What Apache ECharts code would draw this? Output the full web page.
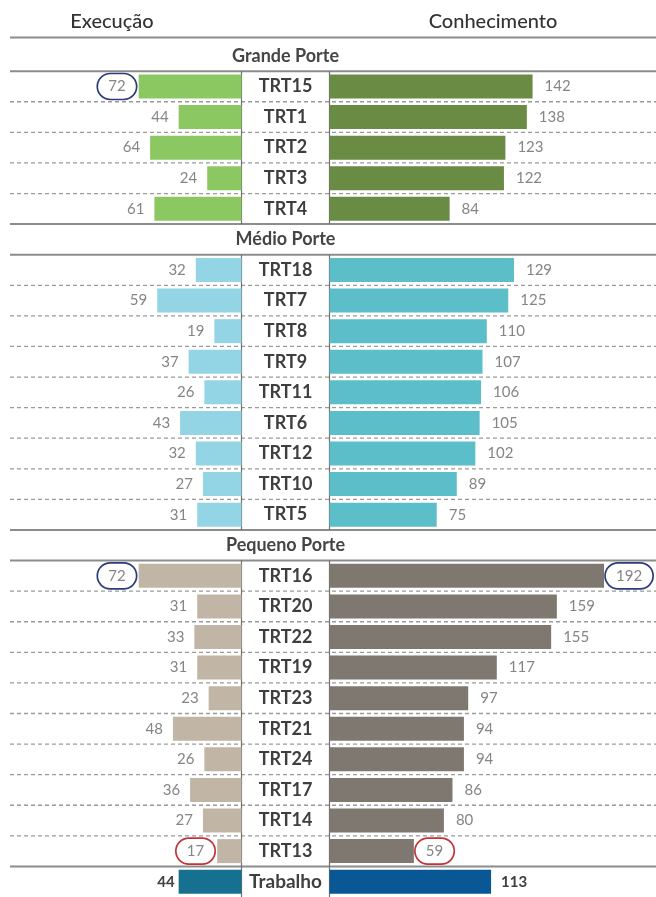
<!DOCTYPE html>
<html>
<head>
<meta charset="utf-8">
<script src="https://cdn.jsdelivr.net/npm/echarts@6/dist/echarts.min.js"></script>
<style>html,body{margin:0;padding:0;background:#fff}#c{width:656px;height:897px}</style>
</head>
<body>
<div id="c"></div>
<script>
// ---- data ----
const leftTitle = 'Execução';
const rightTitle = 'Conhecimento';
const groupHeaders = ['Grande Porte', 'Médio Porte', 'Pequeno Porte'];
const grandeNames = ['TRT15', 'TRT1', 'TRT2', 'TRT3', 'TRT4'];
const grandeExec = [72, 44, 64, 24, 61];
const grandeConh = [142, 138, 123, 122, 84];
const medioNames = ['TRT18', 'TRT7', 'TRT8', 'TRT9', 'TRT11', 'TRT6', 'TRT12', 'TRT10', 'TRT5'];
const medioExec = [32, 59, 19, 37, 26, 43, 32, 27, 31];
const medioConh = [129, 125, 110, 107, 106, 105, 102, 89, 75];
const pequenoNames = ['TRT16', 'TRT20', 'TRT22', 'TRT19', 'TRT23', 'TRT21', 'TRT24', 'TRT17', 'TRT14', 'TRT13'];
const pequenoExec = [72, 31, 33, 31, 23, 48, 26, 36, 27, 17];
const pequenoConh = [192, 159, 155, 117, 97, 94, 94, 86, 80, 59];
const totalName = 'Trabalho';
const totalExec = [44];
const totalConh = [113];
// circled values: [category, colour]
const circledExec = [['TRT15', 'blue'], ['TRT16', 'blue'], ['TRT13', 'red']];
const circledConh = [['TRT16', 'blue'], ['TRT13', 'red']];

// ---- styling ----
const FONT = 'Lato, "Open Sans", sans-serif';
const colors = {
  grande: ['#8cc862', '#6a8b44'],
  medio: ['#93d4e5', '#5bbec8'],
  pequeno: ['#c1b5a5', '#7f7871'],
  total: ['#16708f', '#0a5796']
};
const ringColors = { blue: '#2c3c7c', red: '#c0353a' };

const groups = [
  { key: 'grande', header: groupHeaders[0], names: grandeNames, exec: grandeExec, conh: grandeConh },
  { key: 'medio', header: groupHeaders[1], names: medioNames, exec: medioExec, conh: medioConh },
  { key: 'pequeno', header: groupHeaders[2], names: pequenoNames, exec: pequenoExec, conh: pequenoConh }
];

const categories = [];
const leftData = [];
const rightData = [];

function ring(list, name) {
  const f = list.find(r => r[0] === name);
  return f ? ringColors[f[1]] : null;
}
function makeItem(v, color, ringColor, side, bold) {
  const item = { value: v, itemStyle: { color: color } };
  if (ringColor) {
    item.label = {
      borderColor: ringColor, borderWidth: 1.7, borderRadius: 14,
      padding: [6, 11, 5, 11], distance: side === 'left' ? 2 : 1
    };
  }
  if (bold) {
    item.label = { fontWeight: 'bold', color: '#404040', fontSize: 15, distance: side === 'left' ? 4 : 10 };
  }
  return item;
}

groups.forEach(g => {
  categories.push(g.header);
  leftData.push('-');
  rightData.push('-');
  g.names.forEach((n, i) => {
    categories.push(n);
    leftData.push(makeItem(g.exec[i], colors[g.key][0], ring(circledExec, n), 'left'));
    rightData.push(makeItem(g.conh[i], colors[g.key][1], ring(circledConh, n), 'right'));
  });
});
categories.push(totalName);
leftData.push(makeItem(totalExec[0], colors.total[0], null, 'left', true));
rightData.push(makeItem(totalConh[0], colors.total[1], null, 'right', true));

const chart = echarts.init(document.getElementById('c'), null, { renderer: 'canvas' });

const gridTop = 40.6, gridHeight = 860.7;
const option = {
  animation: false,
  backgroundColor: '#fff',
  textStyle: { fontFamily: FONT },
  title: [
    { text: leftTitle, left: 107, top: 7, textAlign: 'center',
      textStyle: { fontFamily: FONT, fontSize: 20, fontWeight: 500, color: '#333333' } },
    { text: rightTitle, left: 488, top: 7, textAlign: 'center',
      textStyle: { fontFamily: FONT, fontSize: 20, fontWeight: 500, color: '#333333' } }
  ],
  grid: [
    { left: 13, width: 228.5, top: gridTop, height: gridHeight, containLabel: false },
    { left: 329.5, width: 286, top: gridTop, height: gridHeight, containLabel: false }
  ],
  xAxis: [
    { gridIndex: 0, type: 'value', min: 0, max: 160, inverse: true, show: false },
    { gridIndex: 1, type: 'value', min: 0, max: 200, show: false }
  ],
  yAxis: [
    {
      gridIndex: 0, type: 'category', data: categories, inverse: true, position: 'right',
      axisLine: { show: false }, axisTick: { show: false }, splitLine: { show: false },
      axisLabel: {
        margin: 44, align: 'center', interval: 0,
        formatter: function (v) {
          if (groupHeaders.indexOf(v) >= 0) return '{h|' + v + '}';
          if (v === totalName) return '{t|' + v + '}';
          return '{n|' + v + '}';
        },
        rich: {
          h: { fontFamily: FONT, fontSize: 18, fontWeight: 'bold', color: '#454545' },
          t: { fontFamily: FONT, fontSize: 19, fontWeight: 'bold', color: '#404040' },
          n: { fontFamily: FONT, fontSize: 18, fontWeight: 'bold', color: '#3e3e3e' }
        }
      }
    },
    {
      gridIndex: 1, type: 'category', data: categories, inverse: true, show: false
    }
  ],
  series: [
    {
      name: leftTitle, type: 'bar', xAxisIndex: 0, yAxisIndex: 0, data: leftData,
      barWidth: 24, z: 3,
      label: { show: true, position: 'left', distance: 10, fontFamily: FONT,
        fontSize: 15, color: '#858585' }
    },
    {
      name: rightTitle, type: 'bar', xAxisIndex: 1, yAxisIndex: 1, data: rightData,
      barWidth: 24, z: 3,
      label: { show: true, position: 'right', distance: 12, fontFamily: FONT,
        fontSize: 15, color: '#858585' }
    }
  ]
};
chart.setOption(option);

// ---- rule lines derived from the axes ----
function yc(i) { return chart.convertToPixel({ yAxisIndex: 0 }, i); }
const band = yc(1) - yc(0);
function boundary(i) { return yc(i) - band / 2; }
const xL = chart.convertToPixel({ xAxisIndex: 0 }, 0);
const xR = chart.convertToPixel({ xAxisIndex: 1 }, 0);

const elems = [];
function hline(y, solid) {
  elems.push({
    type: 'line', z: 0, silent: true,
    shape: { x1: 10, y1: y, x2: 656, y2: y },
    style: solid ? { stroke: '#8c8c8c', lineWidth: 2 }
                 : { stroke: '#9a9a9a', lineWidth: 1.3, lineDash: [4, 3] }
  });
}
function vline(x, y1, y2) {
  elems.push({
    type: 'line', z: 0, silent: true,
    shape: { x1: x, y1: y1, x2: x, y2: y2 },
    style: { stroke: '#707070', lineWidth: 1.2 }
  });
}
const headerIdx = categories.map((c, i) => groupHeaders.indexOf(c) >= 0 ? i : -1).filter(i => i >= 0);
const totalIdx = categories.indexOf(totalName);
hline(yc(0) - band * 0.6, true);
headerIdx.forEach(i => {
  if (i > 0) hline(boundary(i), true);
  hline(boundary(i + 1), true);
});
hline(boundary(totalIdx), true);
for (let i = 1; i < categories.length; i++) {
  const isData = k => headerIdx.indexOf(k) < 0 && k !== totalIdx;
  if (isData(i) && isData(i - 1)) hline(boundary(i), false);
}
const blockStarts = headerIdx.map(i => i + 1);
const blockEnds = headerIdx.slice(1).concat([totalIdx]);
blockStarts.forEach((s, k) => {
  vline(xL, boundary(s), boundary(blockEnds[k]));
  vline(xR, boundary(s), boundary(blockEnds[k]));
});
vline(xL, boundary(totalIdx), boundary(totalIdx) + band);
vline(xR, boundary(totalIdx), boundary(totalIdx) + band);

chart.setOption({ graphic: { elements: elems } });
</script>
</body>
</html>
